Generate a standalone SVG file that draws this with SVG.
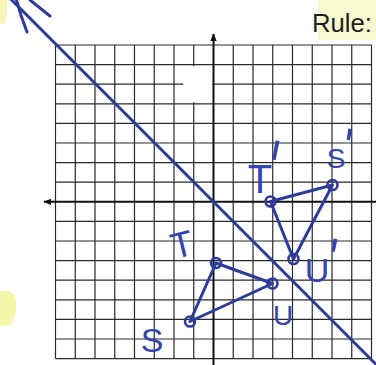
<svg xmlns="http://www.w3.org/2000/svg" width="376" height="365" viewBox="0 0 376 365">
<defs>
<style>
.grid{stroke:#2a2a2a;stroke-width:1.2;fill:none}
.axis{stroke:#111;stroke-width:2;fill:none}
.ink{stroke:#2d3c98;stroke-width:3;fill:none;stroke-linecap:round;stroke-linejoin:round}
.pt{stroke:#2d3c98;stroke-width:2.6;fill:none}
.lbl{font-family:"Liberation Sans",Arial,sans-serif;fill:#3345aa;text-anchor:middle}
.pr{font-family:"Liberation Sans",Arial,sans-serif;fill:#3345aa;text-anchor:middle;font-size:32px}
</style>
<marker id="ah" viewBox="0 0 10 10" refX="9" refY="5" markerWidth="4" markerHeight="4" orient="auto">
<path d="M0,1 L10,5 L0,9 Z" fill="#111"/>
</marker>
</defs>
<rect width="376" height="365" fill="#ffffff"/>
<g id="highlights">
<path d="M0,0 H7 Q8,12 5,24 H0 Z" fill="#f5f7b8"/>
<path d="M0,291 Q14,289 16,300 Q17,318 10,325 L0,326 Z" fill="#f4f6a8"/>
<rect x="318" y="0" width="58" height="40" fill="#f8f9cf"/>
</g>
<text x="312" y="32" font-family="Liberation Sans,Arial,sans-serif" font-size="26" fill="#1e1e1e" textLength="60" lengthAdjust="spacingAndGlyphs">Rule:</text>
<g id="grid">
<path class="grid" d="M55.5,45V358.6M75.25,45V358.6M95,45V358.6M114.75,45V358.6M134.5,45V358.6M154.25,45V358.6M174,45V358.6M193.75,45V358.6M233.25,45V358.6M253,45V358.6M272.75,45V358.6M292.5,45V358.6M312.25,45V358.6M332,45V358.6M351.75,45V358.6M371.5,45V358.6"/>
<path class="grid" d="M55.5,45H371.5M55.5,64.6H371.5M55.5,84.2H371.5M55.5,103.8H371.5M55.5,123.4H371.5M55.5,143H371.5M55.5,162.6H371.5M55.5,182.2H371.5M55.5,221.4H371.5M55.5,241H371.5M55.5,260.6H371.5M55.5,280.2H371.5M55.5,299.8H371.5M55.5,319.4H371.5M55.5,339H371.5M55.5,358.6H371.5"/>
<path d="M183,72 Q185,66 196,66 L212,67 L213,82 L207,99 L191,103 Q182,96 183,72 Z" fill="#ffffff"/>
</g>
<g id="axes">
<path class="axis" d="M213.5,365V34" marker-end="url(#ah)"/>
<path class="axis" d="M376,201.8H44" marker-end="url(#ah)"/>
</g>
<g id="connectors">
<path class="ink" d="M10,-1.7 L378,366.3"/>
<path class="ink" d="M16,-2 Q20,14 27,32"/>
<path class="ink" d="M30,0 Q40,8 50,16"/>
<path class="ink" d="M190,321.5 L216,263 L272.5,283.5 Z"/>
<path class="ink" d="M270.5,201.5 L332.5,185 L293.5,259 Z"/>
</g>
<g id="points">
<circle class="pt" cx="190" cy="321.5" r="5"/>
<circle class="pt" cx="216" cy="263" r="5"/>
<circle class="pt" cx="272.5" cy="283.5" r="5"/>
<circle class="pt" cx="270.5" cy="201.5" r="5"/>
<circle class="pt" cx="332.5" cy="185" r="5"/>
<circle class="pt" cx="293.5" cy="259" r="5"/>
</g>
<g id="label-T"><text class="lbl" x="182" y="257" font-size="36" transform="rotate(-14 182 245)">T</text></g>
<g id="label-S"><text class="lbl" x="152" y="352" font-size="34">S</text></g>
<g id="label-U"><text class="lbl" x="283" y="325" font-size="28">U</text></g>
<g id="label-T1"><text class="lbl" x="260" y="193" font-size="40">T</text><text class="pr" x="0" y="19" transform="translate(276,149) rotate(10) scale(1.4,2.8)">'</text></g>
<g id="label-S1"><text class="lbl" x="336" y="168" font-size="28">S</text><text class="pr" x="0" y="19" transform="translate(349.5,133.5) rotate(10) scale(1.4,1.65)">'</text></g>
<g id="label-U1"><text class="lbl" x="317" y="282" font-size="34">U</text><text class="pr" x="0" y="19" transform="translate(334.5,244.5) rotate(10) scale(1.4,1.9)">'</text></g>
</svg>
